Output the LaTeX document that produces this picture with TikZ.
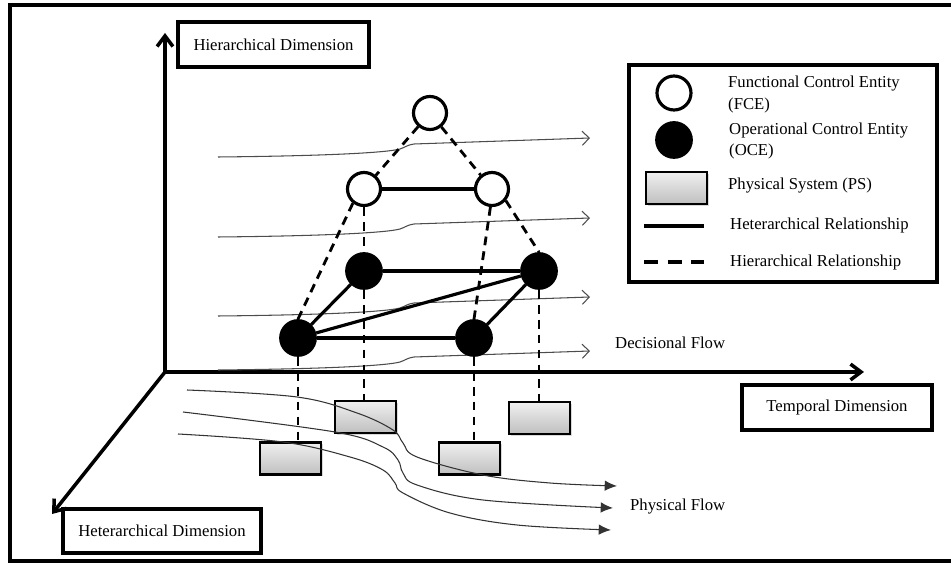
\documentclass[tikz,border=0pt]{standalone}
\usepackage{fontspec}
\setmainfont{Liberation Serif}
\usetikzlibrary{arrows.meta, positioning, shadows}

\begin{document}
\begin{tikzpicture}[x=0.02cm, y=-0.02cm, font=\fontsize{9.5}{12}\selectfont]
\tikzstyle{fce}=[draw, circle, fill=white, line width=1.8pt, minimum size=0.66cm, inner sep=0pt]
\tikzstyle{oce}=[draw, circle, fill=black, line width=1pt, minimum size=0.72cm, inner sep=0pt]
\tikzstyle{ps}=[draw, rectangle, line width=1.4pt, top color=gray!12, bottom color=gray!50, minimum width=1.22cm, minimum height=0.64cm, inner sep=0pt, drop shadow={shadow xshift=1pt, shadow yshift=-1pt, opacity=0.3}]
\tikzstyle{dimbox}=[draw, rectangle, line width=2pt, minimum height=0.9cm]
\tikzstyle{axis}=[line width=2pt, -{Straight Barb[length=6pt, width=9pt]}]
\tikzstyle{hetero}=[line width=1.8pt]
\tikzstyle{hier}=[line width=1.6pt, dash pattern=on 5pt off 3.5pt]
\tikzstyle{dflow}=[gray!60!black, line width=0.6pt, -{Straight Barb[length=4pt, width=8pt]}]
\tikzstyle{pflow}=[black!80, line width=0.6pt, -{Latex[length=7pt, width=6pt]}]

\useasboundingbox (0,0) rectangle (951,563);
\draw[line width=2pt] (10,5) rectangle (970,561);

% axes
\coordinate (O) at (165,372);
\coordinate (HierEnd) at (165,33);
\coordinate (TempEnd) at (864,372);
\coordinate (HetEnd) at (52,514);
\draw[line width=2pt, {Straight Barb[length=6pt, width=9pt]}-{Straight Barb[length=6pt, width=9pt]}] (HierEnd) -- (O) -- (TempEnd);
\draw[axis] (O) -- (HetEnd);

\node[dimbox, minimum width=3.82cm] (HD) at (273.5,44.5) {Hierarchical Dimension};
\node[dimbox, minimum width=3.8cm] (TD) at (837,407.5) {Temporal Dimension};
\node[dimbox, minimum width=3.96cm, minimum height=0.88cm] (HtD) at (162,531) {Heterarchical Dimension};

% decisional flows
\foreach \dy in {0,80,159,213} {
  \draw[dflow, shift={(0,\dy)}] (218,157) .. controls (320,156) and (385,153) .. (400,149) .. controls (406,147) and (407,145) .. (414,144) -- (590,138);
}
\node[anchor=west] (DF) at (609,343) {Decisional Flow};

\node[fce] (F0) at (430,113) {};
\node[fce] (F1) at (364,189) {};
\node[fce] (F2) at (492,189) {};
\node[oce] (O1) at (364,271) {};
\node[oce] (O2) at (539,271) {};
\node[oce] (O3) at (298,338) {};
\node[oce] (O4) at (474,338) {};
\node[ps] (P1) at (290.5,458.5) {};
\node[ps] (P2) at (365.5,417) {};
\node[ps] (P3) at (469.5,458.5) {};
\node[ps] (P4) at (539.5,418) {};

\draw[hier] (F0) -- (F1);
\draw[hier] (F0) -- (F2);
\draw[hier] (F1.232) -- (O3.north);
\draw[hier] (F1.south) -- (O1.north);
\draw[hier] (F2.265) -- (O4.north);
\draw[hier] (F2.-40) -- (O2.north);
\draw[hier] (O3.south) -- (O3.south |- P1.north);
\draw[hier] (O1.south) -- (O1.south |- P2.north);
\draw[hier] (O4.south) -- (O4.south |- P3.north);
\draw[hier] (O2.south) -- (O2.south |- P4.north);

\draw[hetero] (F1) -- (F2);
\draw[hetero] (O1) -- (O2);
\draw[hetero] (O3) -- (O4);
\draw[hetero] (O3) -- (O1);
\draw[hetero] (O3) -- (O2);
\draw[hetero] (O4) -- (O2);

% physical flows
\draw[pflow] plot[smooth, tension=0.6] coordinates {(187,390) (297,397) (357,413) (393,430) (403,443) (417,457) (483,475) (550,483) (617,486)};
\draw[pflow] plot[smooth, tension=0.6] coordinates {(183,412) (335,432) (383,447) (398,460) (403,473) (417,485) (483,500) (613,508)};
\draw[pflow] plot[smooth, tension=0.6] coordinates {(178,434) (283,442) (350,457) (383,470) (395,483) (403,493) (450,513) (517,525) (611,530)};
\node[anchor=west] (PF) at (624,507) {Physical Flow};

% legend
\node[draw, rectangle, line width=2pt, minimum width=6.16cm, minimum height=4.34cm] (L) at (783,173.5) {};
\node[fce, minimum size=0.68cm] (LF) at (674,93) {};
\node[oce] (LO) at (674,140) {};
\node[ps] (LP) at (676.5,188) {};
\coordinate (LH1) at (644,226);
\coordinate (LH2) at (704,226);
\coordinate (LD1) at (644,262);
\coordinate (LD2) at (704,262);
\draw[hetero] (LH1) -- (LH2);
\draw[hier, line width=1.8pt, dash pattern=on 8pt off 5.5pt] (LD1) -- (LD2);
\node[anchor=west, align=left] (LFt) at (722,94.5) {Functional Control Entity\\(FCE)};
\node[anchor=west, align=left] (LOt) at (723,141) {Operational Control Entity\\(OCE)};
\node[anchor=west] (LPt) at (722,186) {Physical System (PS)};
\node[anchor=west] (LHt) at (724,225) {Heterarchical Relationship};
\node[anchor=west] (LDt) at (724,262) {Hierarchical Relationship};
\end{tikzpicture}
\end{document}
